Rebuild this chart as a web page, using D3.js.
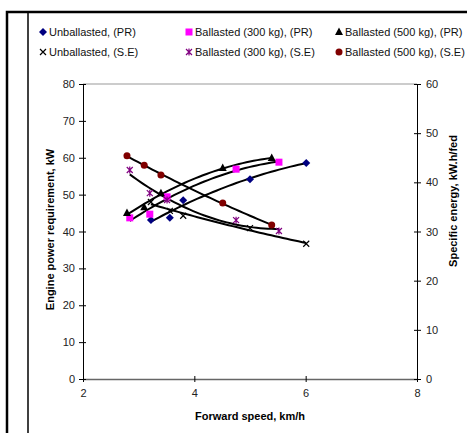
<!DOCTYPE html>
<html>
<head>
<meta charset="utf-8">
<script src="https://cdn.jsdelivr.net/npm/d3@7"></script>
<style>
  body { margin: 0; background: #fff; }
  svg { font-family: "Liberation Sans", Arial, sans-serif; }
</style>
</head>
<body>
<div id="chart"></div>
<script>
// forward speed, km/h
const speedUnb = [3.22, 3.56, 3.80, 5.00, 6.01];
const speed300 = [2.84, 3.20, 3.51, 4.75, 5.52];
const speed500 = [2.79, 3.10, 3.40, 4.51, 5.39];
// engine power requirement, kW (left axis)
const powerUnb = [43.1, 43.7, 48.5, 54.2, 58.6];
const power300 = [43.7, 44.7, 49.4, 56.9, 58.8];
const power500 = [45.0, 46.6, 50.4, 57.2, 59.9];
// specific energy, kW.h/fed (right axis)
const energyUnb = [36.0, 34.2, 33.2, 30.7, 27.5];
const energy300 = [42.5, 37.8, 36.4, 32.3, 30.1];
const energy500 = [45.4, 43.5, 41.5, 35.8, 31.3];

const xTicks = [2, 4, 6, 8];
const leftTicks = [0, 10, 20, 30, 40, 50, 60, 70, 80];
const rightTicks = [0, 10, 20, 30, 40, 50, 60];

const series = [
  {name: "Unballasted, (PR)", xs: speedUnb, ys: powerUnb, axis: "left", marker: "diamond", color: "#000080"},
  {name: "Ballasted (300 kg), (PR)", xs: speed300, ys: power300, axis: "left", marker: "square", color: "#ff00ff"},
  {name: "Ballasted (500 kg), (PR)", xs: speed500, ys: power500, axis: "left", marker: "triangle", color: "#000000"},
  {name: "Unballasted, (S.E)", xs: speedUnb, ys: energyUnb, axis: "right", marker: "x", color: "#000000"},
  {name: "Ballasted (300 kg), (S.E)", xs: speed300, ys: energy300, axis: "right", marker: "star", color: "#800080"},
  {name: "Ballasted (500 kg), (S.E)", xs: speed500, ys: energy500, axis: "right", marker: "circle", color: "#800000"}
];

const width = 467, height = 433;
const margin = {top: 84, right: 50, bottom: 54, left: 83};

const svg = d3.select("#chart").append("svg")
    .attr("width", width)
    .attr("height", height);

// outer frame
svg.append("path")
    .attr("d", `M7,${height} V12 H${width}`)
    .attr("fill", "none")
    .attr("stroke", "#000")
    .attr("stroke-width", 2.5);
svg.append("line")
    .attr("x1", 28).attr("x2", 28)
    .attr("y1", 12).attr("y2", height)
    .attr("stroke", "#000")
    .attr("stroke-width", 1.5);

const x = d3.scaleLinear().domain([2, 8]).range([margin.left, width - margin.right]);
const yL = d3.scaleLinear().domain([0, 80]).range([height - margin.bottom, margin.top]);
const yR = d3.scaleLinear().domain([0, 60]).range([height - margin.bottom, margin.top]);

// plot border top
svg.append("line")
    .attr("x1", x(2)).attr("x2", x(8))
    .attr("y1", yL(80)).attr("y2", yL(80))
    .attr("stroke", "#999");

// axes
const xAxis = svg.append("g")
    .attr("transform", `translate(0,${yL(0)})`)
    .call(d3.axisBottom(x).tickValues(xTicks).tickFormat(d3.format("d"))
      .tickSize(3).tickSizeOuter(0).tickPadding(7));
xAxis.select(".domain").attr("stroke", "#666").attr("stroke-width", 1.5);
xAxis.selectAll(".tick line").attr("y1", -3);

const lAxis = svg.append("g")
    .attr("transform", `translate(${x(2)},0)`)
    .call(d3.axisLeft(yL).tickValues(leftTicks).tickSize(4).tickSizeOuter(0).tickPadding(4));
lAxis.selectAll(".tick line").attr("x2", -4).attr("x1", 3);

const rAxis = svg.append("g")
    .attr("transform", `translate(${x(8)},0)`)
    .call(d3.axisRight(yR).tickValues(rightTicks).tickSize(4).tickSizeOuter(0).tickPadding(5));
rAxis.selectAll(".tick line").attr("x1", -3);

svg.selectAll(".tick text").attr("font-size", 11).attr("fill", "#222")
    .attr("font-family", "Liberation Sans, Arial, sans-serif");

svg.append("text")
    .attr("x", (x(2) + x(8)) / 2).attr("y", 420)
    .attr("text-anchor", "middle")
    .attr("font-size", 11).attr("font-weight", "bold")
    .text("Forward speed, km/h");

svg.append("text")
    .attr("transform", `translate(54,${(yL(0) + yL(80)) / 2 - 2}) rotate(-90)`)
    .attr("text-anchor", "middle")
    .attr("font-size", 11).attr("font-weight", "bold")
    .text("Engine power requirement, kW");

svg.append("text")
    .attr("transform", `translate(457,201) rotate(-90)`)
    .attr("text-anchor", "middle")
    .attr("font-size", 11).attr("font-weight", "bold")
    .text("Specific energy, kW.h/fed");

// second-order polynomial trendline (least squares) from the series points
function quadFit(xs, ys) {
  const n = xs.length;
  let s = [0, 0, 0, 0, 0], t = [0, 0, 0];
  for (let i = 0; i < n; i++) {
    let p = 1;
    for (let k = 0; k < 5; k++) { s[k] += p; if (k < 3) t[k] += p * ys[i]; p *= xs[i]; }
  }
  const A = [[s[0], s[1], s[2], t[0]], [s[1], s[2], s[3], t[1]], [s[2], s[3], s[4], t[2]]];
  for (let i = 0; i < 3; i++) {
    for (let j = i + 1; j < 3; j++) {
      const f = A[j][i] / A[i][i];
      for (let k = i; k < 4; k++) A[j][k] -= f * A[i][k];
    }
  }
  const c = [0, 0, 0];
  for (let i = 2; i >= 0; i--) {
    let v = A[i][3];
    for (let k = i + 1; k < 3; k++) v -= A[i][k] * c[k];
    c[i] = v / A[i][i];
  }
  return v => c[0] + c[1] * v + c[2] * v * v;
}

const line = d3.line().x(d => d[0]).y(d => d[1]);

series.forEach(s => {
  const y = s.axis === "left" ? yL : yR;
  const f = quadFit(s.xs, s.ys);
  const [lo, hi] = d3.extent(s.xs);
  const pts = d3.range(0, 41).map(i => {
    const v = lo + (hi - lo) * i / 40;
    return [x(v), y(f(v))];
  });
  svg.append("path")
      .attr("d", line(pts))
      .attr("fill", "none")
      .attr("stroke", "#000")
      .attr("stroke-width", 2);
});

function drawMarker(g, type, color) {
  if (type === "diamond") {
    g.append("path").attr("d", "M0,-4L4,0L0,4L-4,0Z").attr("fill", color);
  } else if (type === "square") {
    g.append("rect").attr("x", -3.5).attr("y", -3.5).attr("width", 7).attr("height", 7).attr("fill", color);
  } else if (type === "triangle") {
    g.append("path").attr("d", "M0,-4.5L4,3L-4,3Z").attr("fill", color);
  } else if (type === "circle") {
    g.append("circle").attr("r", 3.5).attr("fill", color);
  } else if (type === "x") {
    g.append("path").attr("d", "M-3,-3L3,3M3,-3L-3,3").attr("stroke", color).attr("stroke-width", 1.2);
  } else if (type === "star") {
    g.append("path").attr("d", "M-3,-3L3,3M3,-3L-3,3M0,-3.5V3.5").attr("stroke", color).attr("stroke-width", 1.2);
  }
}

series.forEach(s => {
  const y = s.axis === "left" ? yL : yR;
  s.xs.forEach((v, i) => {
    const g = svg.append("g").attr("transform", `translate(${x(v)},${y(s.ys[i])})`);
    drawMarker(g, s.marker, s.color);
  });
});

// legend
const legCols = [43, 189, 339];
const legRows = [32, 52];
series.forEach((s, i) => {
  const cx = legCols[i % 3], cy = legRows[Math.floor(i / 3)];
  const g = svg.append("g").attr("transform", `translate(${cx},${cy})`);
  drawMarker(g, s.marker, s.color);
  svg.append("text")
      .attr("x", cx + 6).attr("y", cy + 4)
      .attr("font-size", 11)
      .attr("fill", "#111")
      .text(s.name);
});
</script>
</body>
</html>
